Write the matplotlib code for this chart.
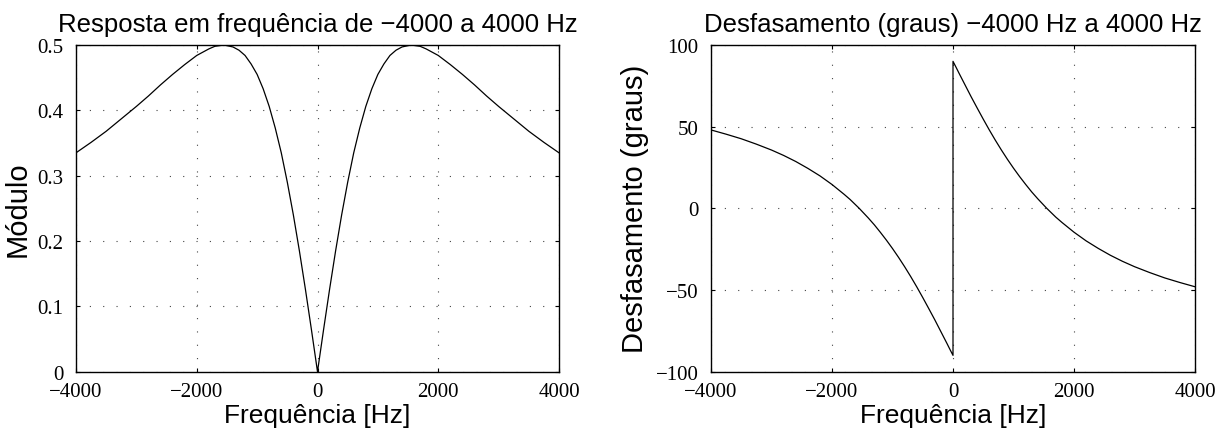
import matplotlib
matplotlib.use("Agg")
import matplotlib.pyplot as plt

# ---- data ----
mag_freq = [-4000, -3750, -3500, -3250, -3000, -2800, -2600, -2400, -2200, -2000,
            -1800, -1700, -1550, -1400, -1300, -1200, -1100, -1000, -900, -800,
            -700, -600, -500, -400, -300, -200, -150, -100, -50, -25,
            0,
            25, 50, 100, 150, 200, 300, 400, 500, 600, 700,
            800, 900, 1000, 1100, 1200, 1300, 1400, 1550, 1700, 1800,
            2000, 2200, 2400, 2600, 2800, 3000, 3250, 3500, 3750, 4000]
magnitude = [0.335, 0.351, 0.368, 0.387, 0.406, 0.422, 0.439, 0.455, 0.470, 0.484,
             0.494, 0.498, 0.500, 0.497, 0.492, 0.484, 0.471, 0.455, 0.433, 0.406,
             0.373, 0.335, 0.290, 0.240, 0.185, 0.126, 0.095, 0.064, 0.032, 0.016,
             0.0,
             0.016, 0.032, 0.064, 0.095, 0.126, 0.185, 0.240, 0.290, 0.335, 0.373,
             0.406, 0.433, 0.455, 0.471, 0.484, 0.492, 0.497, 0.500, 0.498, 0.494,
             0.484, 0.470, 0.455, 0.439, 0.422, 0.406, 0.387, 0.368, 0.351, 0.335]

phase_freq = [-4000, -3750, -3500, -3250, -3000, -2800, -2600, -2400, -2200, -2000,
              -1800, -1700, -1550, -1400, -1300, -1200, -1100, -1000, -900, -800,
              -700, -600, -500, -400, -300, -200, -150, -100, -50, -25,
              0, 0,
              25, 50, 100, 150, 200, 300, 400, 500, 600, 700,
              800, 900, 1000, 1100, 1200, 1300, 1400, 1550, 1700, 1800,
              2000, 2200, 2400, 2600, 2800, 3000, 3250, 3500, 3750, 4000]
phase_deg = [48.0, 45.4, 42.6, 39.3, 35.7, 32.4, 28.7, 24.5, 19.9, 14.6,
             8.6, 5.4, 0.0, -5.9, -10.1, -14.7, -19.5, -24.6, -30.0, -35.7,
             -41.7, -48.0, -54.6, -61.4, -68.3, -75.5, -79.1, -82.7, -86.4, -88.2,
             -90.0, 90.0,
             88.2, 86.4, 82.7, 79.1, 75.5, 68.3, 61.4, 54.6, 48.0, 41.7,
             35.7, 30.0, 24.6, 19.5, 14.7, 10.1, 5.9, 0.0, -5.4, -8.6,
             -14.6, -19.9, -24.5, -28.7, -32.4, -35.7, -39.3, -42.6, -45.4, -48.0]

x_ticks = [-4000, -2000, 0, 2000, 4000]
mag_ticks = [0, 0.1, 0.2, 0.3, 0.4, 0.5]
mag_tick_labels = ["0", "0.1", "0.2", "0.3", "0.4", "0.5"]
phase_ticks = [-100, -50, 0, 50, 100]

title_left = "Resposta em frequência de \u22124000 a 4000 Hz"
title_right = "Desfasamento (graus) \u22124000 Hz a 4000 Hz"
xlabel = "Frequência [Hz]"
ylabel_left = "Módulo"
ylabel_right = "Desfasamento (graus)"

# ---- figure ----
W, H = 1221, 439
fig = plt.figure(figsize=(W / 100, H / 100), dpi=100)

sans = ["Liberation Sans", "DejaVu Sans"]
serif = ["Liberation Serif", "DejaVu Serif"]

def ax_rect(x0, x1, ytop, ybot):
    return [x0 / W, 1 - ybot / H, (x1 - x0) / W, (ybot - ytop) / H]

ax1 = fig.add_axes(ax_rect(76, 559, 46, 372.7))
ax2 = fig.add_axes(ax_rect(711, 1195, 46, 372.7))

def fmt(t):
    return ("\u2212" + str(-t)) if t < 0 else str(t)

def style(ax, yticks, ylabels=None):
    ax.set_xlim(-4000, 4000)
    ax.set_xticks(x_ticks)
    ax.set_xticklabels([fmt(t) for t in x_ticks], family=serif, fontsize=15)
    ax.set_yticks(yticks)
    if ylabels is None:
        ylabels = [fmt(t) for t in yticks]
    ax.set_yticklabels(ylabels, family=serif, fontsize=15)
    ax.tick_params(direction="in", length=3, width=0.8, top=True, right=True,
                   color="black")
    ax.tick_params(axis="x", pad=7.5)
    ax.tick_params(axis="y", pad=9)
    ax.grid(True, linestyle=(0, (1.0, 11.0)), color="#444444", linewidth=0.8)
    for s in ax.spines.values():
        s.set_linewidth(1.0)
        s.set_color("black")
    ax.set_xlabel(xlabel, family=sans, fontsize=19, labelpad=1)

ax1.plot(mag_freq, magnitude, color="black", linewidth=0.9)
ax1.set_ylim(0, 0.5)
style(ax1, mag_ticks, mag_tick_labels)
ax1.set_ylabel(ylabel_left, family=sans, fontsize=21, labelpad=4)
ax1.set_title(title_left, family=sans, fontsize=18.5, pad=10)

ax2.plot(phase_freq, phase_deg, color="black", linewidth=0.9)
ax2.set_ylim(-100, 100)
style(ax2, phase_ticks)
ax2.set_ylabel(ylabel_right, family=sans, fontsize=21, labelpad=5)
ax2.set_title(title_right, family=sans, fontsize=18.5, pad=10)

fig.savefig("out.png", dpi=100, facecolor="white")
